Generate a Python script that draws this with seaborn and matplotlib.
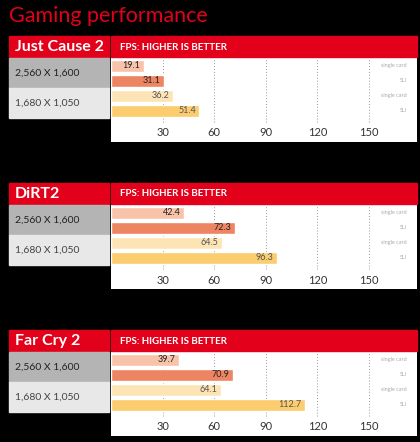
import matplotlib
matplotlib.use("Agg")
import matplotlib.pyplot as plt
from matplotlib.patches import Rectangle
import seaborn as sns
import pandas as pd

games = ["Just Cause 2", "DiRT2", "Far Cry 2"]
resolutions = ["2,560 X 1,600", "1,680 X 1,050"]
setups = ["single card", "SLI"]
fps_2560_single = [19.1, 42.4, 39.7]
fps_2560_sli = [31.1, 72.3, 70.9]
fps_1680_single = [36.2, 64.5, 64.1]
fps_1680_sli = [51.4, 96.3, 112.7]
ticks = [30, 60, 90, 120, 150]

bar_colors = ["#f9c3aa", "#ee8562", "#fde4b4", "#fbcd6e"]
red = "#e2001a"
W, H = 420, 442
panel_tops = [36, 183, 330]

sns.set_theme(style="white")
plt.rcParams["font.family"] = ["Lato", "DejaVu Sans"]
fig = plt.figure(figsize=(W / 100, H / 100), dpi=100, facecolor="black")


def box(x0, y0, x1, y1, color):
    fig.patches.append(Rectangle((x0 / W, 1 - y1 / H), (x1 - x0) / W, (y1 - y0) / H,
                                 transform=fig.transFigure, color=color, zorder=0))


fig.text(9 / W, 1 - 16 / H, "Gaming performance", color=red, fontsize=15.5, va="center")

for i, game in enumerate(games):
    top = panel_tops[i]
    # header
    box(9, top, 109, top + 21, red)
    box(111, top, 417, top + 21, red)
    fig.text(15 / W, 1 - (top + 11) / H, game, color="white", fontsize=11.5,
             fontweight="bold", va="center")
    fig.text(120 / W, 1 - (top + 11) / H, "FPS: HIGHER IS BETTER", color="white",
             fontsize=7, fontweight="bold", va="center")
    # resolution row boxes
    box(9, top + 22, 109, top + 52, "#b4b4b4")
    box(9, top + 52, 109, top + 82, "#e8e8e8")
    fig.text(15 / W, 1 - (top + 37) / H, resolutions[0], color="#222222", fontsize=7.5, va="center")
    fig.text(15 / W, 1 - (top + 67) / H, resolutions[1], color="#444444", fontsize=7.5, va="center")

    df = pd.DataFrame({
        "label": ["a", "b", "c", "d"],
        "fps": [fps_2560_single[i], fps_2560_sli[i], fps_1680_single[i], fps_1680_sli[i]],
        "setup": setups * 2,
    })
    ax_top, ax_bot = top + 22, top + 106
    ax = fig.add_axes([111 / W, 1 - ax_bot / H, 306 / W, (ax_bot - ax_top) / H])
    ax.set_facecolor("white")
    sns.barplot(data=df, y="label", x="fps", hue="label", palette=bar_colors,
                saturation=1, legend=False, width=0.8, ax=ax, zorder=2)
    ax.set_xlim(0, 178)
    ax.set_ylim(3.5 + 24 / 15, -0.5)
    for t in ticks:
        ax.axvline(t, ymin=(24 - 4) / 84, ymax=1, color="#999999", lw=0.7,
                   ls=(0, (1, 2)), zorder=1)
        ax.text(t, 4.5, str(t), ha="center", va="center", fontsize=8, color="#333333")
    for j, row in df.iterrows():
        ax.text(row["fps"] - 2, j, f"{row['fps']:.1f}", ha="right", va="center",
                fontsize=6.5, color="#222222" if j < 2 else "#555555", zorder=3)
        ax.text(172, j, row["setup"], ha="right", va="center", fontsize=4, color="#aaaaaa")
    ax.set_xlabel("")
    ax.set_ylabel("")
    ax.set_xticks([])
    ax.set_yticks([])
    for s in ax.spines.values():
        s.set_visible(False)

fig.savefig("out.png", dpi=100, facecolor="black")
